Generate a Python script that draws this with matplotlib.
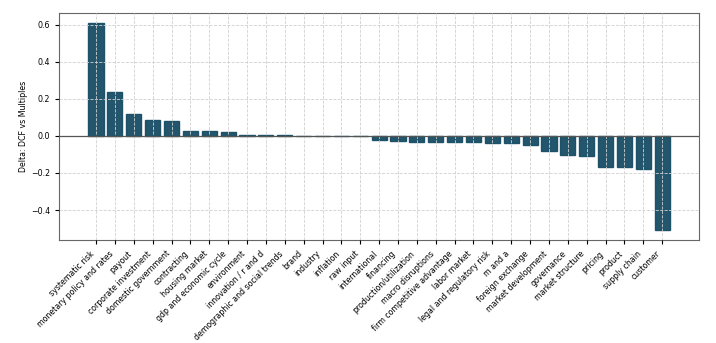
import matplotlib
matplotlib.use("Agg")
from matplotlib import pyplot as plt

categories = [
    "systematic risk", "monetary policy and rates", "payout", "corporate investment",
    "domestic government", "contracting", "housing market", "gdp and economic cycle",
    "environment", "innovation / r and d", "demographic and social trends", "brand",
    "industry", "inflation", "raw input", "international", "financing",
    "production/utilization", "macro disruptions", "firm competitive advantage",
    "labor market", "legal and regulatory risk", "m and a", "foreign exchange",
    "market development", "governance", "market structure", "pricing", "product",
    "supply chain", "customer",
]
delta = [
    0.611, 0.240, 0.116, 0.086, 0.079, 0.029, 0.027, 0.021, 0.007, 0.005, 0.003,
    0.0008, 0.0003, 0.0002, -0.002, -0.020, -0.027, -0.030, -0.034, -0.034, -0.034,
    -0.039, -0.039, -0.047, -0.079, -0.104, -0.107, -0.168, -0.170, -0.179, -0.509,
]

fig, ax = plt.subplots(figsize=(7.16, 3.43), dpi=100)
x = range(len(categories))
ax.bar(x, delta, width=0.8, color="#174d64", edgecolor="#174d64", alpha=0.95, zorder=1)
ax.axhline(0, color="#555555", linewidth=0.9, zorder=3)
ax.grid(True, linestyle="--", color="#d0d0d0", linewidth=0.6, zorder=2)
ax.set_axisbelow(False)

ax.set_xticks(list(x))
ax.set_xticklabels(categories, rotation=45, ha="right", fontsize=5.7)
ax.tick_params(axis="both", labelsize=5.7, length=3)
ax.set_ylabel("Delta: DCF vs Multiples", fontsize=5.7, labelpad=2)
ax.set_ylim(-0.5625, 0.664)
for s in ax.spines.values():
    s.set_color("#666666")

fig.subplots_adjust(left=0.083, right=0.976, top=0.962, bottom=0.3)
fig.savefig("out.png", dpi=100)
